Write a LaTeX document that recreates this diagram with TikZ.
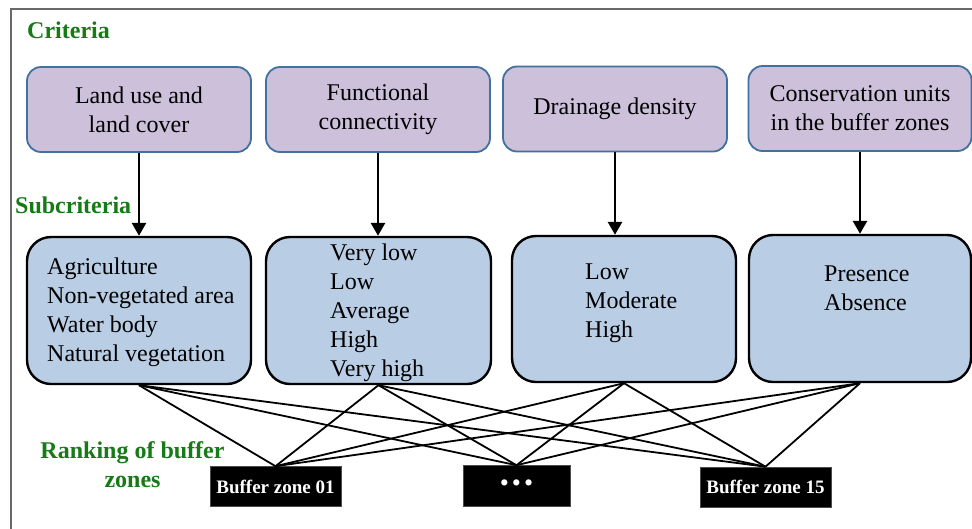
\documentclass[tikz,border=0pt]{standalone}
\usepackage{fontspec}
\setmainfont{Liberation Serif}
\usetikzlibrary{arrows.meta}
\definecolor{critfill}{RGB}{204,192,218}
\definecolor{critdraw}{RGB}{65,113,156}
\definecolor{subfill}{RGB}{185,205,229}
\definecolor{labgreen}{RGB}{22,122,22}
\definecolor{framegray}{RGB}{105,105,105}
\begin{document}
\begin{tikzpicture}[x=1pt,y=-1pt,
  crit/.style={draw=critdraw, line width=1.8pt, fill=critfill, rounded corners=14pt,
    minimum width=224pt, minimum height=85pt, align=center, inner sep=0pt,
    font=\fontsize{24}{29}\selectfont},
  subbox/.style={draw=black, line width=2.4pt, fill=subfill, rounded corners=24pt,
    minimum width=224pt, minimum height=147pt, inner sep=0pt},
  subtext/.style={anchor=west, align=left, inner sep=0pt, font=\fontsize{24}{29}\selectfont},
  grlabel/.style={text=labgreen, inner sep=0pt, font=\fontsize{24}{29}\selectfont\bfseries},
  buffer/.style={fill=black, draw=black!70, line width=0.6pt, text=white, minimum width=131pt,
    minimum height=40pt, inner sep=0pt, font=\fontsize{19}{20}\selectfont\bfseries},
  downarrow/.style={line width=2.8pt, -{Triangle[width=14pt,length=13pt]}},
  link/.style={line width=1.8pt}
]
\useasboundingbox (0,0) rectangle (972,528);
\fill[white] (0,0) rectangle (972,528);
\draw[framegray, line width=1.8pt] (11,530) -- (11,9) -- (975,9);

% labels
\node[grlabel, anchor=base west] (lcrit) at (27,38) {Criteria};
\node[grlabel, anchor=base west] (lsub) at (15,213) {Subcriteria};
\node[grlabel, align=center] (lrank) at (132.5,465) {Ranking of buffer\\zones};

% criteria
\node[crit] (c1) at (139,109.5) {Land use and\\land cover};
\node[crit] (c2) at (378,109.5) {Functional\\connectivity};
\node[crit] (c3) at (615,109) {Drainage density};
\node[crit, minimum width=223pt] (c4) at (860,108.5) {Conservation units\\in the buffer zones};

% subcriteria boxes
\node[subbox] (s1) at (139,310.5) {};
\node[subbox, minimum width=225pt] (s2) at (378.5,310.5) {};
\node[subbox, minimum height=146pt] (s3) at (624,309) {};
\node[subbox, minimum width=222pt] (s4) at (860,308.5) {};

\node[subtext] (t1) at (47,312) {Agriculture\\Non-vegetated area\\Water body\\Natural vegetation};
\node[subtext] (t2) at (330,312.5) {Very low\\Low\\Average\\High\\Very high};
\node[subtext] (t3) at (585,303.5) {Low\\Moderate\\High};
\node[subtext] (t4) at (824,288.5) {Presence\\Absence};

% arrows
\draw[downarrow] (c1.south) -- (c1.south |- s1.north);
\draw[downarrow] (c2.south) -- (c2.south |- s2.north);
\draw[downarrow] (c3.south) -- (c3.south |- s3.north);
\draw[downarrow] (c4.south) -- (c4.south |- s4.north);

% buffer zones
\node[buffer] (b1) at (275.5,486.5) {Buffer zone 01};
\node[buffer, minimum width=107pt, minimum height=41pt, font=\fontsize{26}{26}\selectfont] (b2) at (516.5,486) {•\hspace{3pt}•\hspace{3pt}•};
\node[buffer] (b3) at (765.5,487) {Buffer zone 15};

% links
\foreach \s in {s1,s2,s3,s4}{
  \foreach \b in {b1,b2,b3}{
    \draw[link] (\s.south) -- (\b.north);
  }
}
\end{tikzpicture}
\end{document}
